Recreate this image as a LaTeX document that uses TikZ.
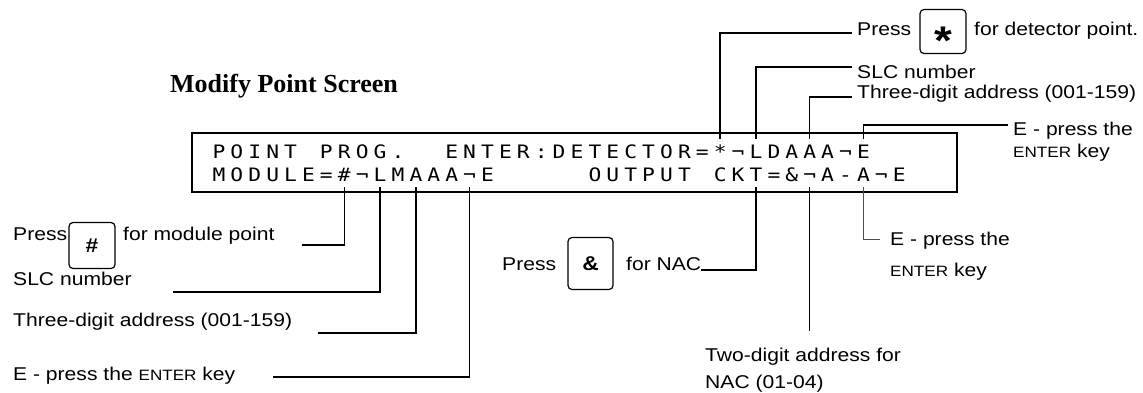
\documentclass[tikz,border=0pt]{standalone}
\usepackage{fontspec}
\setmainfont{Liberation Sans}[FakeStretch=1.14]
\newfontfamily\lcdfont{DejaVu Sans Mono}[FakeStretch=1.15]
\newfontfamily\titlefont{Liberation Serif}
\usetikzlibrary{calc}
\newcommand{\smallenter}{{\fontsize{15}{18}\selectfont ENTER}}

\begin{document}
\begin{tikzpicture}[x=1pt, y=-1pt,
  every node/.style={font=\fontsize{18.5}{22}\selectfont, inner sep=0pt},
  lbl/.style={anchor=base west},
  lcdchar/.style={font=\lcdfont\fontsize{18.5}{20}\selectfont, anchor=base, text height=13pt, text depth=0pt, outer ysep=6pt},
  keybox/.style={draw, line width=1.2pt, rounded corners=4pt, minimum width=46pt, font=\bfseries\fontsize{20}{24}\selectfont},
  leader/.style={line width=1.5pt},
  thinleader/.style={line width=0.6pt, black!70}]
  \useasboundingbox (0,0) rectangle (1143,392);

  % title
  \node[anchor=base west, font=\titlefont\bfseries\fontsize{26}{30}\selectfont] (title) at (170,92) {Modify Point Screen};

  % screen with its two rows
  \node[draw, line width=1.8pt, minimum width=765pt, minimum height=59pt] (screen) at (574.5,162.5) {};
  \foreach \ch [count=\i from 0] in {P,O,I,N,T,{},P,R,O,G,.,{},{},E,N,T,E,R,:,D,E,T,E,C,T,O,R,=,*,¬,L,D,A,A,A,¬,E}
    \node[lcdchar] (r1c\i) at ({219+17.9*\i},158) {\ch};
  \foreach \ch [count=\i from 0] in {M,O,D,U,L,E,=,\#,¬,L,M,A,A,A,¬,E,{},{},{},{},{},O,U,T,P,U,T,{},C,K,T,=,\&,¬,A,-,A,¬,E}
    \node[lcdchar] (r2c\i) at ({219+17.9*\i},181) {\ch};

  % detector point, top right
  \node[lbl] (pressStar) at (857,35) {Press};
  \node[keybox, minimum height=44pt] (starKey) at (943,31.5) {\fontsize{40}{40}\selectfont\raisebox{-0.57em}[0pt][0pt]{*}};
  \node[lbl] (forDet) at (974,35) {for detector point.};
  \node[lbl] (slcTop) at (857,78) {SLC number};
  \node[lbl] (addrTop) at (857,98) {Three-digit address (001-159)};
  \node[lbl] (enterTop) at (1013,135) {E - press the};
  \node[lbl] (enterTopKey) at (1013,157) {\smallenter{} key};
  \coordinate (pressStarEnd) at (852,33);
  \coordinate (slcTopEnd) at (852,67);
  \coordinate (addrTopEnd) at (852,97);
  \coordinate (enterTopEnd) at (1008,125);
  \draw[leader] (r1c28.north) |- (pressStarEnd);
  \draw[leader] (r1c30.north) |- (slcTopEnd);
  \draw[leader] (r1c33.north) |- (addrTopEnd);
  \draw[leader] (r1c36.north) |- (enterTopEnd);

  % module point, bottom left
  \node[lbl] (pressHash) at (13,240) {Press};
  \node[keybox, minimum height=46pt] (hashKey) at (92,245.5) {\#};
  \node[lbl] (forMod) at (123,240) {for module point};
  \node[lbl] (slcBot) at (13,285) {SLC number};
  \node[lbl] (addrBot) at (13,326) {Three-digit address (001-159)};
  \node[lbl] (enterBot) at (13,380) {E - press the \smallenter{} key};
  \coordinate (modEnd) at (302,245);
  \coordinate (slcBotEnd) at (173,292);
  \coordinate (addrBotEnd) at (318,333);
  \coordinate (enterBotEnd) at (273,377);
  \draw[leader] (r2c7.south) |- (modEnd);
  \draw[leader] (r2c9.south) |- (slcBotEnd);
  \draw[leader] (r2c11.south) |- (addrBotEnd);
  \draw[leader] (r2c14.south) |- (enterBotEnd);

  % output circuit
  \node[lbl] (pressAmp) at (502,270) {Press};
  \node[keybox, minimum width=45pt, minimum height=52pt] (ampKey) at (590.5,263.5) {\&};
  \node[lbl] (forNac) at (626,270) {for NAC};
  \node[lbl] (twoDigit) at (705,361) {Two-digit address for};
  \node[lbl] (twoDigitB) at (705,388) {NAC (01-04)};
  \node[lbl] (enterMid) at (890,245) {E - press the};
  \node[lbl] (enterMidKey) at (890,276) {\smallenter{} key};
  \coordinate (nacEnd) at (r2c33.south |- 0,331);
  \coordinate (enterMidEnd) at (880,239);
  \draw[leader] (r2c30.south) |- (forNac.base east);
  \draw[leader] (r2c33.south) -- (nacEnd);
  \draw[thinleader] (r2c36.south) |- (enterMidEnd);
\end{tikzpicture}
\end{document}
